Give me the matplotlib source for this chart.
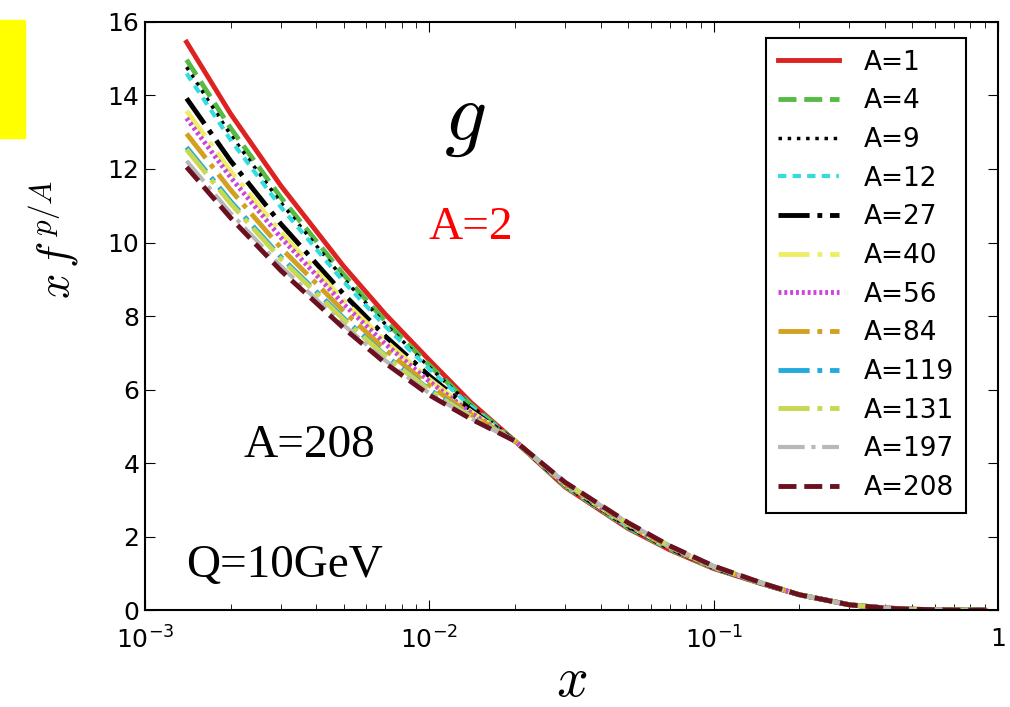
import numpy as np
import matplotlib
matplotlib.use("Agg")
import matplotlib.pyplot as plt
from matplotlib.patches import Rectangle

# gluon distributions x f^{p/A} at Q = 10 GeV
x = [0.0014, 0.002, 0.003, 0.005, 0.007, 0.01, 0.014, 0.02, 0.03, 0.05,
     0.07, 0.1, 0.15, 0.2, 0.3, 0.4, 0.5, 0.7, 0.9]

g_A1 = [15.45, 13.5, 11.55, 9.35, 8.05, 6.8, 5.65, 4.6, 3.35, 2.22,
        1.64, 1.13, 0.7, 0.42, 0.15, 0.06, 0.025, 0.003, 0.0]
g_A4 = [14.97, 13.11, 11.23, 9.12, 7.86, 6.66, 5.59, 4.6, 3.37, 2.24,
        1.66, 1.14, 0.70, 0.42, 0.149, 0.060, 0.025, 0.003, 0.0]
g_A9 = [14.77, 12.93, 11.09, 9.01, 7.78, 6.61, 5.56, 4.6, 3.38, 2.25,
        1.66, 1.14, 0.70, 0.42, 0.149, 0.059, 0.025, 0.003, 0.0]
g_A12 = [14.60, 12.79, 10.97, 8.93, 7.72, 6.56, 5.54, 4.6, 3.38, 2.26,
         1.67, 1.15, 0.71, 0.42, 0.149, 0.059, 0.025, 0.003, 0.0]
g_A27 = [13.92, 12.22, 10.51, 8.59, 7.45, 6.37, 5.45, 4.6, 3.41, 2.29,
         1.69, 1.16, 0.71, 0.42, 0.147, 0.058, 0.024, 0.003, 0.0]
g_A40 = [13.58, 11.94, 10.28, 8.42, 7.32, 6.28, 5.40, 4.6, 3.42, 2.31,
         1.70, 1.17, 0.71, 0.42, 0.147, 0.058, 0.024, 0.003, 0.0]
g_A56 = [13.38, 11.77, 10.14, 8.32, 7.24, 6.22, 5.37, 4.6, 3.43, 2.32,
         1.71, 1.17, 0.71, 0.42, 0.146, 0.058, 0.024, 0.003, 0.0]
g_A84 = [12.96, 11.43, 9.86, 8.13, 7.08, 6.11, 5.32, 4.6, 3.45, 2.33,
         1.72, 1.18, 0.72, 0.42, 0.146, 0.057, 0.024, 0.003, 0.0]
g_A119 = [12.59, 11.12, 9.61, 7.94, 6.93, 6.00, 5.27, 4.6, 3.46, 2.35,
          1.74, 1.19, 0.72, 0.42, 0.145, 0.057, 0.023, 0.003, 0.0]
g_A131 = [12.53, 11.06, 9.56, 7.90, 6.91, 5.98, 5.26, 4.6, 3.46, 2.35,
          1.74, 1.19, 0.72, 0.42, 0.145, 0.057, 0.023, 0.003, 0.0]
g_A197 = [12.22, 10.80, 9.36, 7.75, 6.79, 5.90, 5.22, 4.6, 3.48, 2.37,
          1.75, 1.19, 0.72, 0.42, 0.144, 0.057, 0.023, 0.003, 0.0]
g_A208 = [12.05, 10.67, 9.24, 7.67, 6.72, 5.85, 5.20, 4.6, 3.48, 2.38,
          1.75, 1.20, 0.72, 0.42, 0.144, 0.056, 0.023, 0.003, 0.0]

labels = ["A=1", "A=4", "A=9", "A=12", "A=27", "A=40", "A=56", "A=84",
          "A=119", "A=131", "A=197", "A=208"]
curves = [g_A1, g_A4, g_A9, g_A12, g_A27, g_A40, g_A56, g_A84,
          g_A119, g_A131, g_A197, g_A208]
styles = [
    dict(color="#dd2222", ls="-", lw=3.5),
    dict(color="#55bb44", ls="--", lw=3.5),
    dict(color="black", ls=":", lw=2.5),
    dict(color="#33dddd", ls=(0, (2, 1.5)), lw=3),
    dict(color="black", ls="-.", lw=3.5),
    dict(color="#eeee66", ls="-.", lw=3.5),
    dict(color="#cc44dd", ls=(0, (0.6, 0.6)), lw=3.5),
    dict(color="#d4a020", ls="-.", lw=3.5),
    dict(color="#22aadd", ls="-.", lw=3.5),
    dict(color="#c8d850", ls="-.", lw=3.5),
    dict(color="#b8b8b8", ls="-.", lw=3),
    dict(color="#6a1020", ls="--", lw=3.5),
]

fig = plt.figure(figsize=(10.1, 7.07), dpi=100)
ax = fig.add_axes([0.1436, 0.137, 0.8445, 0.832])

for y, lab, st in zip(curves, labels, styles):
    ax.plot(x, y, label=lab, **st)

ax.set_xscale("log")
ax.set_xlim(1e-3, 1)
ax.set_ylim(0, 16)
ax.set_yticks(np.arange(0, 17, 2))
ax.set_xticks([1e-3, 1e-2, 1e-1, 1])
ax.set_xticklabels([r"$10^{-3}$", r"$10^{-2}$", r"$10^{-1}$", "1"])
ax.tick_params(which="both", direction="in", top=True, right=True,
               labelsize=18)
ax.tick_params(axis="y", which="major", length=7, pad=4)
ax.tick_params(axis="x", which="major", length=7, pad=12)
ax.tick_params(which="minor", length=4)
for sp in ax.spines.values():
    sp.set_linewidth(1.5)

ax.set_xlabel(r"$x$", fontsize=40, math_fontfamily="cm")
ax.xaxis.set_label_coords(0.5, -0.075)
ax.set_ylabel(r"$x\,f^{\,p/A}$", fontsize=32, math_fontfamily="cm")
ax.yaxis.set_label_coords(-0.075, 0.63)

leg = ax.legend(loc="upper right", bbox_to_anchor=(0.9625, 0.973),
                borderaxespad=0, fontsize=19, handlelength=2.3,
                handletextpad=0.95, labelspacing=0.48, borderpad=0.45,
                fancybox=False, framealpha=1)
leg.get_frame().set_edgecolor("black")
leg.get_frame().set_linewidth(1.5)

ax.text(0.375, 0.835, r"$g$", transform=ax.transAxes, fontsize=60,
        math_fontfamily="cm", ha="center", va="center")
ax.text(0.382, 0.65, "A=2", transform=ax.transAxes, color="red",
        fontsize=34, family="Liberation Serif", ha="center", va="center")
ax.text(0.193, 0.28, "A=208", transform=ax.transAxes, color="black",
        fontsize=34, family="Liberation Serif", ha="center", va="center")
ax.text(0.164, 0.075, "Q=10GeV", transform=ax.transAxes, color="black",
        fontsize=34, family="Liberation Serif", ha="center", va="center")

# yellow marker block in the top-left corner
fig.patches.append(Rectangle((0, 0.805), 0.0248, 0.167, color="yellow",
                             transform=fig.transFigure, figure=fig))

fig.savefig("out.png", dpi=100)
